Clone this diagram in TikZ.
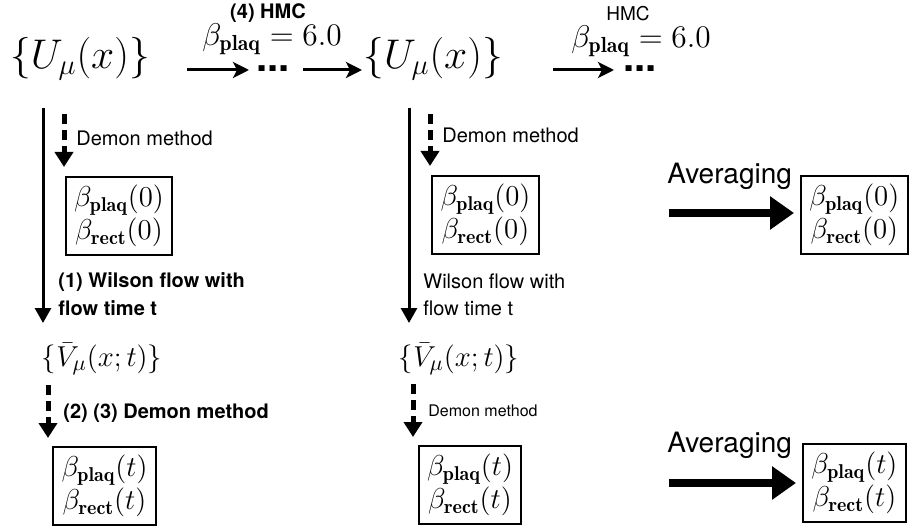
\documentclass[tikz,border=0pt]{standalone}
\usepackage{amsmath}
\usepackage{fontspec}
\newfontfamily\helv{TeX Gyre Heros}
\usetikzlibrary{arrows.meta,positioning}
\newcommand\bplaq{\beta_{\mathbf{plaq}}}
\newcommand\brect{\beta_{\mathbf{rect}}}
\tikzset{
  field/.style   ={inner sep=0pt, font=\fontsize{20}{24}\selectfont},
  vfield/.style  ={inner sep=0pt, font=\fontsize{15}{18}\selectfont},
  coup/.style    ={inner sep=0pt, scale=1.09, font=\fontsize{14.4}{17}\selectfont},
  res/.style     ={rectangle, draw, line width=1pt, align=center, inner xsep=4.2pt,
                   inner ysep=4.2pt, font=\fontsize{14.4}{16.5}\selectfont},
  lbl/.style     ={inner sep=0pt, anchor=west, font=\helv\fontsize{10}{12}\selectfont},
  blbl/.style    ={lbl, font=\helv\bfseries\fontsize{10}{12}\selectfont},
  dots/.style    ={inner sep=0pt, anchor=base, text height=3pt, text depth=0pt,
                   font=\helv\bfseries\fontsize{20}{20}\selectfont},
  flow/.style    ={-{Triangle[length=7.5pt,width=8pt]}, line width=1.5pt},
  demon/.style   ={-{Triangle[length=7.5pt,width=9pt]}, line width=2.5pt,
                   dash pattern=on 5pt off 3pt},
  hmc/.style     ={-{Stealth[length=8pt,width=8pt,inset=2pt]}, line width=1.5pt},
  avg/.style     ={-{Triangle[length=12pt,width=16pt]}, line width=4pt, shorten >=3pt},
}
\begin{document}
\begin{tikzpicture}[x=0.5pt, y=-0.5pt]
    \useasboundingbox (0,0) rectangle (914,529);

    % configurations (top row)
    \node[field] (u0) at (80,59) {$\{U_\mu(x)\}$};
    \node[field] (u1) at (433,59) {$\{U_\mu(x)\}$};

    % HMC steps
    \node[blbl, anchor=center] (hmc0) at (268,13) {(4) HMC};
    \node[coup] (cp0) at (272,39) {$\bplaq = 6.0$};
    \node[dots] (d0) at (273,72) {...};
    \coordinate (a0s) at (187,70);
    \coordinate (a0e) at (249,70);
    \coordinate (a1s) at (303,70);
    \coordinate (a1e) at (362,70);
    \draw[hmc] (a0s) -- (a0e);
    \draw[hmc] (a1s) -- (a1e);

    \node[lbl, anchor=center, font=\helv\fontsize{9.5}{11}\selectfont] (hmc1) at (628,14) {HMC};
    \node[coup] (cp1) at (641,41) {$\bplaq = 6.0$};
    \node[dots] (d1) at (640,72) {...};
    \coordinate (a2s) at (553,70);
    \coordinate (a2e) at (614,70);
    \draw[hmc] (a2s) -- (a2e);

    % left column: flow and demon
    \node[res] (r0a) at (119,216) {$\bplaq(0)$\\$\brect(0)$};
    \coordinate (fl0s) at (43,108);
    \coordinate (fl0e) at (43,323);
    \draw[flow] (fl0s) -- (fl0e);
    \coordinate (dm0s) at (64,114);
    \coordinate (dm0e) at (64,167);
    \draw[demon] (dm0s) -- (dm0e);
    \node[lbl] (dl0) at (76,138) {Demon method};
    \node[blbl] (wl0) at (58,282) {(1) Wilson flow with};
    \node[blbl] (wt0) at (58,308) {flow time t};
    \node[vfield] (v0) at (102,359) {$\{\bar{V}_\mu(x;t)\}$};
    \node[res] (r0b) at (104.5,486) {$\bplaq(t)$\\$\brect(t)$};
    \coordinate (dm1s) at (48,385);
    \coordinate (dm1e) at (48,438);
    \draw[demon] (dm1s) -- (dm1e);
    \node[blbl] (dl1) at (63,413) {(2) (3) Demon method};

    % middle column
    \node[res] (r1a) at (485.5,215) {$\bplaq(0)$\\$\brect(0)$};
    \coordinate (fl1s) at (409,108);
    \coordinate (fl1e) at (409,323);
    \draw[flow] (fl1s) -- (fl1e);
    \coordinate (dm2s) at (430,114);
    \coordinate (dm2e) at (430,166);
    \draw[demon] (dm2s) -- (dm2e);
    \node[lbl] (dl2) at (442,135) {Demon method};
    \node[lbl] (wl1) at (423,281) {Wilson flow with};
    \node[lbl] (wt1) at (423,308) {flow time t};
    \node[vfield] (v1) at (459,359) {$\{\bar{V}_\mu(x;t)\}$};
    \node[res] (r1b) at (470,485) {$\bplaq(t)$\\$\brect(t)$};
    \coordinate (dm3s) at (413,384);
    \coordinate (dm3e) at (413,437);
    \draw[demon] (dm3s) -- (dm3e);
    \node[lbl, font=\helv\fontsize{8}{10}\selectfont] (dl3) at (428,411) {Demon method};

    % right column: averages
    \node[res, anchor=west] (r2a) at (800,215) {$\bplaq(0)$\\$\brect(0)$};
    \node[lbl, font=\helv\fontsize{14}{16}\selectfont] (av0) at (667,176) {Averaging};
    \coordinate (av0s) at (669,213);
    \draw[avg] (av0s) -- (r2a.west |- av0s);
    \node[res, anchor=west] (r2b) at (802,483) {$\bplaq(t)$\\$\brect(t)$};
    \node[lbl, font=\helv\fontsize{14}{16}\selectfont] (av1) at (667,445) {Averaging};
    \coordinate (av1s) at (669,483);
    \draw[avg] (av1s) -- (r2b.west |- av1s);
\end{tikzpicture}
\end{document}
